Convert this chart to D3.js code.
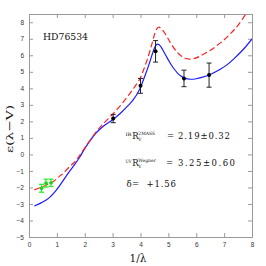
<!DOCTYPE html>
<html><head><meta charset="utf-8">
<script src="https://cdn.jsdelivr.net/npm/d3@7"></script>
<style>html,body{margin:0;padding:0;background:#fff;}</style>
</head><body>
<svg id="c" width="266" height="266"></svg>
<script>
const xTicks = [0,1,2,3,4,5,6,7,8];
const yTicks = [-5,-4,-3,-2,-1,0,1,2,3,4,5,6,7,8];

// Black data points (1/lambda, E(l-V), err)
const ptX   = [3.02, 4.00, 4.54, 5.56, 6.46];
const ptY   = [2.17, 4.15, 6.24, 4.60, 4.80];
const ptErr = [0.25, 0.45, 0.65, 0.50, 0.73];

// Green (IR) points
const gX   = [0.45, 0.61, 0.79];
const gY   = [-2.05, -1.74, -1.72];
const gErr = [0.24, 0.24, 0.22];

// Blue fitted curve
const blueX = [0.19,0.45,0.70,0.95,1.17,1.40,1.60,1.80,2.00,2.20,2.43,2.70,3.00,3.30,3.55,3.73,3.97,4.15,4.30,4.40,4.48,4.55,4.61,4.67,4.74,4.82,4.92,5.02,5.12,5.22,5.32,5.45,5.60,5.78,6.00,6.20,6.50,6.86,7.10,7.34,7.70,8.00];
const blueY = [-3.12,-2.92,-2.66,-2.22,-1.72,-1.15,-0.70,-0.22,0.35,0.85,1.34,1.75,2.10,2.52,2.95,3.28,3.95,4.72,5.42,5.95,6.35,6.60,6.68,6.64,6.50,6.26,5.96,5.66,5.38,5.14,4.94,4.74,4.60,4.55,4.58,4.66,4.84,5.16,5.42,5.77,6.38,6.99];

// Red dashed curve
const redX = [0.19,0.45,0.87,1.11,1.23,1.41,1.60,1.78,2.00,2.43,2.70,3.00,3.35,3.73,3.98,4.15,4.30,4.42,4.51,4.59,4.66,4.74,4.84,4.95,5.05,5.18,5.32,5.46,5.60,5.75,5.90,6.10,6.48,6.96,7.44,7.74,7.85];
const redY = [-2.15,-1.98,-1.64,-1.30,-1.15,-0.82,-0.52,-0.15,0.40,1.40,1.92,2.43,3.10,3.95,4.58,5.30,6.05,6.75,7.30,7.62,7.70,7.62,7.42,7.12,6.82,6.48,6.18,5.96,5.82,5.77,5.79,5.92,6.28,6.88,7.70,8.40,8.70];

const svg = d3.select("#c");
const L=29, R=252, T=14, B=237;
const x = d3.scaleLinear().domain([0,8]).range([L,R]);
const y = d3.scaleLinear().domain([-5,8.5]).range([B,T]);

const axisCol = "#9a9a9a";
const tickFont = "Liberation Sans, Arial, sans-serif";

// axes with inward ticks
const gB = svg.append("g").attr("transform",`translate(0,${B})`)
  .call(d3.axisBottom(x).tickValues(xTicks).tickSize(-4).tickPadding(5).tickFormat(d3.format("d")));
const gT = svg.append("g").attr("transform",`translate(0,${T})`)
  .call(d3.axisTop(x).tickValues(xTicks).tickSize(-4).tickFormat(""));
const gL = svg.append("g").attr("transform",`translate(${L},0)`)
  .call(d3.axisLeft(y).tickValues(yTicks).tickSize(-4).tickPadding(5).tickFormat(d3.format("d")));
const gR = svg.append("g").attr("transform",`translate(${R},0)`)
  .call(d3.axisRight(y).tickValues(yTicks).tickSize(-4).tickFormat(""));
[gB,gT,gL,gR].forEach(g=>{
  g.selectAll("path.domain").attr("stroke",axisCol);
  g.selectAll(".tick line").attr("stroke",axisCol);
  g.selectAll(".tick text").attr("fill","#333").attr("font-family",tickFont).attr("font-size","6.5px");
});

svg.append("clipPath").attr("id","pc").append("rect")
  .attr("x",L).attr("y",T).attr("width",R-L).attr("height",B-T);

const line = d3.line().x(d=>x(d[0])).y(d=>y(d[1])).curve(d3.curveCatmullRom.alpha(0.5));

svg.append("path").datum(blueX.map((v,i)=>[v,blueY[i]]))
  .attr("d",line).attr("fill","none").attr("stroke","#1a1aff").attr("stroke-width",1.2)
  .attr("clip-path","url(#pc)");
svg.append("path").datum(redX.map((v,i)=>[v,redY[i]]))
  .attr("d",line).attr("fill","none").attr("stroke","#ff2020").attr("stroke-width",1.2)
  .attr("stroke-dasharray","6,3").attr("clip-path","url(#pc)");

// black error bars
const pts = ptX.map((v,i)=>({x:v,y:ptY[i],e:ptErr[i]}));
const eb = svg.append("g").attr("stroke","#222").attr("stroke-width",1);
pts.forEach(p=>{
  eb.append("line").attr("x1",x(p.x)).attr("x2",x(p.x)).attr("y1",y(p.y-p.e)).attr("y2",y(p.y+p.e));
  eb.append("line").attr("x1",x(p.x)-2.5).attr("x2",x(p.x)+2.5).attr("y1",y(p.y-p.e)).attr("y2",y(p.y-p.e));
  eb.append("line").attr("x1",x(p.x)-2.5).attr("x2",x(p.x)+2.5).attr("y1",y(p.y+p.e)).attr("y2",y(p.y+p.e));
});
svg.append("g").selectAll("circle").data(pts).join("circle")
  .attr("cx",d=>x(d.x)).attr("cy",d=>y(d.y)).attr("r",2).attr("fill","#000");

// green points
const gp = gX.map((v,i)=>({x:v,y:gY[i],e:gErr[i]}));
const ge = svg.append("g").attr("stroke","#22ee22").attr("stroke-width",1.2);
gp.forEach(p=>{
  ge.append("line").attr("x1",x(p.x)).attr("x2",x(p.x)).attr("y1",y(p.y-p.e)).attr("y2",y(p.y+p.e));
  ge.append("line").attr("x1",x(p.x)-2.5).attr("x2",x(p.x)+2.5).attr("y1",y(p.y-p.e)).attr("y2",y(p.y-p.e));
  ge.append("line").attr("x1",x(p.x)-2.5).attr("x2",x(p.x)+2.5).attr("y1",y(p.y+p.e)).attr("y2",y(p.y+p.e));
  ge.append("line").attr("x1",x(p.x)-2).attr("x2",x(p.x)+2).attr("y1",y(p.y)).attr("y2",y(p.y));
});
svg.append("g").selectAll("rect").data(gp).join("rect")
  .attr("x",d=>x(d.x)-1.5).attr("y",d=>y(d.y)-1.5).attr("width",3).attr("height",3).attr("fill","#22cc22");

// texts
const serif = "DejaVu Serif, Liberation Serif, serif";
svg.append("text").attr("x",43).attr("y",40).attr("font-family",serif).attr("font-size","10px")
  .attr("textLength",45).attr("lengthAdjust","spacingAndGlyphs").attr("fill","#111").text("HD76534");

// y label
svg.append("text").attr("transform","translate(13,129) rotate(-90)").attr("text-anchor","middle")
  .attr("font-family",serif).attr("font-size","10px").attr("fill","#111")
  .attr("textLength",48).attr("lengthAdjust","spacingAndGlyphs").text("ε(λ−V)");
// x label
svg.append("text").attr("x",138).attr("y",262).attr("text-anchor","middle")
  .attr("font-family",serif).attr("font-size","10.5px").attr("fill","#111").text("1/λ");

function annot(base, pre, sup, valStr, eqX, valX, valW){
  const g = svg.append("g").attr("font-family",serif).attr("fill","#111");
  g.append("text").attr("x",125.5).attr("y",base-3).attr("font-size","4.5px")
    .attr("textLength",6).attr("lengthAdjust","spacingAndGlyphs").text(pre);
  g.append("text").attr("x",132.3).attr("y",base).attr("font-size","8.5px").text("R");
  g.append("text").attr("x",138.3).attr("y",base-3.5).attr("font-size","4.5px").text(sup);
  g.append("text").attr("x",138.3).attr("y",base+2.5).attr("font-size","4.5px").text("V");
  g.append("text").attr("x",eqX).attr("y",base).attr("font-size","8.5px").text("=");
  g.append("text").attr("x",valX).attr("y",base).attr("font-size","8.5px")
    .attr("textLength",valW).attr("lengthAdjust","spacing").text(valStr);
}
annot(138.5, "IR", "2MASS", "2.19±0.32", 167, 178, 52);
annot(165.5, "UV", "Wegner", "3.25±0.60", 166, 178, 57);
const gd = svg.append("g").attr("font-family",serif).attr("fill","#111").attr("font-size","8.5px");
gd.append("text").attr("x",126.5).attr("y",186.7).text("δ");
gd.append("text").attr("x",132).attr("y",186.7).text("=");
gd.append("text").attr("x",146.5).attr("y",186.7).attr("textLength",29.5).attr("lengthAdjust","spacing").text("+1.56");
</script>
</body></html>
